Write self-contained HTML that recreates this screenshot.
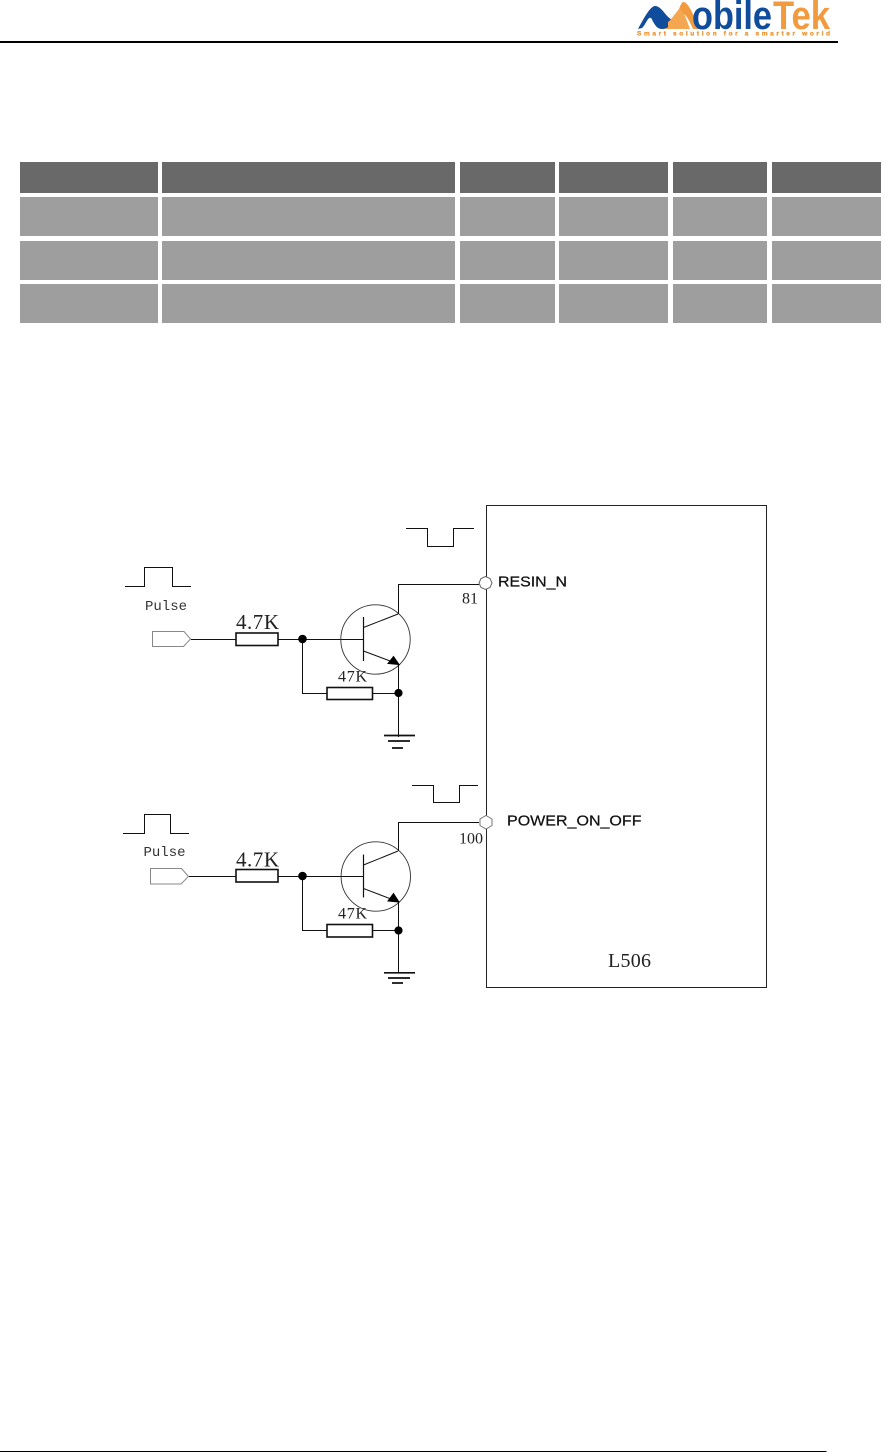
<!DOCTYPE html>
<html lang="en">
<head>
<meta charset="utf-8">
<title>L506 reset and power-on circuit</title>
<style>
html,body{margin:0;padding:0;background:#fff}
body{width:885px;height:1452px;overflow:hidden}
svg{display:block}
.s{font-family:"Liberation Serif",serif;fill:#222}
.m{font-family:"Liberation Mono",monospace;fill:#333;font-size:14px}
.a{font-family:"Liberation Sans",sans-serif;fill:#111;stroke:#111;stroke-width:.25}
</style>
</head>
<body>
<svg width="885" height="1452" viewBox="0 0 885 1452" xmlns="http://www.w3.org/2000/svg">
<rect width="885" height="1452" fill="#fff"/>

<!-- Logo -->
<path d="M638 29C643 20 650 6 655 6C662 6 666 18 673 20L676 18C672 25 668 29 662 29C655 29 653 20 651 18C648 16 645 26 642 28Z" fill="#0f4c9c"/>
<path d="M664 29C672 27 675 20 678 12C680 6 682 1 684 2C690 4 695 20 700 29L693 29C690 22 686 14 683 14C680 20 675 27 668 29Z" fill="#f29a3e"/>
<path d="M668 22C672 19 676 12 680 8L684 14C686 18 688 24 690 29H668Z" fill="#f4a650"/>
<text x="692" y="29" font-family="Liberation Sans,sans-serif" font-weight="700" font-size="40" fill="#0f4c9c" textLength="80" lengthAdjust="spacingAndGlyphs">obile</text>
<text x="773" y="29" font-family="Liberation Sans,sans-serif" font-weight="700" font-size="40" fill="#f29a3e" textLength="57" lengthAdjust="spacingAndGlyphs">Tek</text>
<text x="637" y="35.5" font-family="Liberation Sans,sans-serif" font-weight="700" font-size="6.5" fill="#ee9a3c" stroke="#ee9a3c" stroke-width=".35" textLength="193" lengthAdjust="spacing">Smart solution for a smarter world</text>

<!-- Header and footer rules -->
<rect x="0" y="41" width="838" height="2" fill="#000"/>
<rect x="0" y="1451" width="826.5" height="1" fill="#000"/>

<!-- Table -->
<g fill="#696969">
<rect x="20" y="162" width="138" height="31"/><rect x="162" y="162" width="293" height="31"/><rect x="460" y="162" width="95" height="31"/><rect x="559" y="162" width="109" height="31"/><rect x="673" y="162" width="94" height="31"/><rect x="772" y="162" width="109" height="31"/>
</g>
<g fill="#9e9e9e">
<rect x="20" y="197" width="138" height="39"/><rect x="162" y="197" width="293" height="39"/><rect x="460" y="197" width="95" height="39"/><rect x="559" y="197" width="109" height="39"/><rect x="673" y="197" width="94" height="39"/><rect x="772" y="197" width="109" height="39"/>
<rect x="20" y="241" width="138" height="39"/><rect x="162" y="241" width="293" height="39"/><rect x="460" y="241" width="95" height="39"/><rect x="559" y="241" width="109" height="39"/><rect x="673" y="241" width="94" height="39"/><rect x="772" y="241" width="109" height="39"/>
<rect x="20" y="284" width="138" height="39"/><rect x="162" y="284" width="293" height="39"/><rect x="460" y="284" width="95" height="39"/><rect x="559" y="284" width="109" height="39"/><rect x="673" y="284" width="94" height="39"/><rect x="772" y="284" width="109" height="39"/>
</g>

<!-- Chip box -->
<rect x="486.5" y="505.5" width="280" height="482" fill="none" stroke="#222" stroke-width="1"/>

<!-- Upper circuit -->
<g fill="none" stroke="#111" stroke-width="1">
<path d="M125 586.5H144.5V567.5H172.5V586.5H191"/>
<path d="M406 528.5H427.5V546.5H453.5V528.5H474"/>
<path d="M152.5 631.5H184L190.5 639L183.5 646.5H152.5Z" stroke="#888"/>
<path d="M191 639.5H236M278 639.5H363.5"/>
<rect x="236" y="633" width="42" height="12.5" stroke-width="1.6"/>
<circle cx="375.5" cy="639.5" r="34.7" stroke="#333" stroke-width=".9"/>
<path d="M363.5 617V661" stroke-width="1.2"/>
<path d="M363.5 627.5L398 614M398.5 614V584.5H479M363.5 651L398 664M398.5 664V737"/>
<path d="M302.5 639.5V693.5H327M372 693.5H398"/>
<rect x="327" y="687.5" width="45.5" height="12" stroke-width="1.6"/>
<path d="M384 735.5H415M388 741H410M392 748H403" stroke-width="1.7"/>
<path d="M485.5 576.5L490 578.5L492 583L490 587.5L485.5 589.5L481 587.5L479 583L481 578.5Z" fill="#fff" stroke="#666"/>
</g>
<path d="M393.5 656.5L388 663.5L399 664.5Z" fill="#000" stroke="#000"/>
<circle cx="302.5" cy="639" r="4.3" fill="#000"/>
<circle cx="398.5" cy="693" r="4.1" fill="#000"/>
<text class="m" x="145" y="610">Pulse</text>
<text class="s" x="236" y="629" font-size="21" textLength="43">4.7K</text>
<text class="s" x="338" y="681.5" font-size="16" textLength="29">47K</text>
<text class="s" x="462" y="603.5" font-size="16">81</text>
<text class="a" x="498" y="586.5" font-size="15" textLength="69" lengthAdjust="spacingAndGlyphs">RESIN_N</text>

<!-- Lower circuit -->
<g fill="none" stroke="#111" stroke-width="1">
<path d="M123 833.5H144.5V814.5H170.5V833.5H189"/>
<path d="M412 785.5H433.5V802.5H459.5V785.5H478"/>
<path d="M150.5 868.5H181.5L188.5 876.5L181 884H150.5Z" stroke="#888"/>
<path d="M189 876.5H236M278 876.5H363.5"/>
<rect x="236" y="869.5" width="42" height="12.5" stroke-width="1.6"/>
<circle cx="375.8" cy="876.5" r="34.7" stroke="#333" stroke-width=".9"/>
<path d="M363.5 854.5V897.5" stroke-width="1.2"/>
<path d="M363.5 865L398 851M398.5 851V822.5H479M363.5 888.5L398 901.7M398.5 901.7V972"/>
<path d="M302.5 876.5V930.5H327M372 930.5H398"/>
<rect x="327" y="924.5" width="45.5" height="12.5" stroke-width="1.6"/>
<path d="M384 972.8H415M388 978H410M392 983H403" stroke-width="1.7"/>
<path d="M486 815.5L492 819V825.5L486 829L480 825.5V819Z" fill="#fff" stroke="#777"/>
</g>
<path d="M393.5 893.5L388 901L399 902Z" fill="#000" stroke="#000"/>
<circle cx="302.5" cy="876" r="4.3" fill="#000"/>
<circle cx="398.5" cy="930.5" r="4.1" fill="#000"/>
<text class="m" x="143.5" y="856">Pulse</text>
<text class="s" x="236" y="866.5" font-size="21" textLength="43">4.7K</text>
<text class="s" x="338" y="918.5" font-size="16" textLength="29">47K</text>
<text class="s" x="459" y="843.5" font-size="16">100</text>
<text class="a" x="507" y="825.5" font-size="15" textLength="134.5" lengthAdjust="spacingAndGlyphs">POWER_ON_OFF</text>
<text class="s" x="608" y="967" font-size="20" textLength="43">L506</text>
</svg>
</body>
</html>
